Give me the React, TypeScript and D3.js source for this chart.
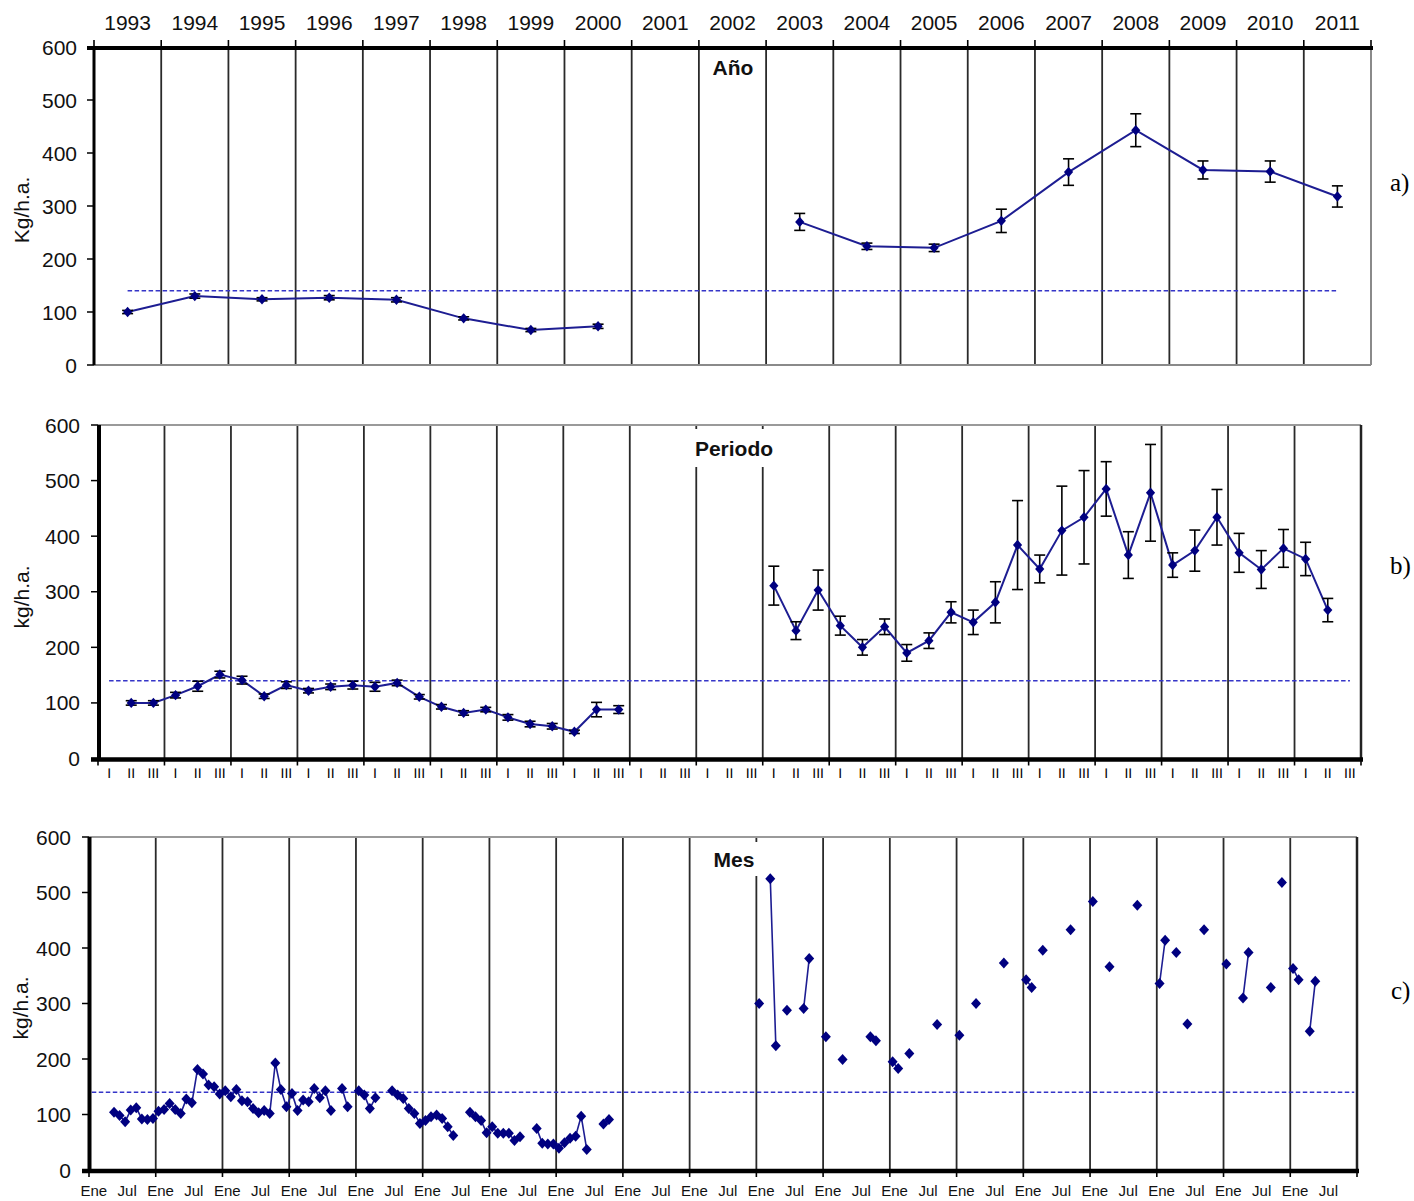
import React from 'react';
import * as d3 from 'd3';

// ---------- DATA ----------
const years = ['1993','1994','1995','1996','1997','1998','1999','2000','2001','2002','2003','2004','2005','2006','2007','2008','2009','2010','2011'];

const annualMean: (number | null)[] = [100,130,124,127,123,88,66,73,null,null,270,224,221,272,364,443,368,365,318];
const annualErr: (number | null)[] = [3,4,3,4,4,3,3,4,null,null,16,6,7,22,25,31,17,20,20];

const periodNames = ['I','II','III'];
const periodMean: (number | null)[] = [
  null,100,100, 114,130,151, 141,112,132, 122,129,132, 129,136,111, 93,82,88, 74,62,58, 48,88,88,
  null,null,null, null,null,null,
  311,230,303, 239,200,237, 190,212,263, 245,281,384, 341,410,434, 485,366,478, 348,374,434, 370,340,378, 359,267,null,
];
const periodErr: (number | null)[] = [
  null,4,4, 5,9,6, 7,4,6, 4,5,7, 8,5,4, 4,4,4, 5,5,5, 3,13,7,
  null,null,null, null,null,null,
  35,16,36, 17,14,14, 15,14,19, 22,37,80, 25,80,84, 49,42,87, 22,37,50, 35,34,34, 30,21,null,
];

const monthNames = ['Ene','Jul'];
// month index counted from Ene 1993 (0) to Dic 2011 (227)
const monthIdx = [
  4,5,6,7,8,9,10,11,12,13,14,15,16,17,18,19,20,21,22,23,24,25,26,27,28,29,30,31,32,33,34,35,36,37,38,39,40,41,42,43,
  45,46,48,49,50,51,54,55,56,57,58,59,60,61,62,63,64,65,68,69,70,71,72,73,74,75,76,77,80,81,82,83,84,85,86,87,88,89,92,93,
  120,122,123,125,128,129,132,135,140,141,144,145,147,152,156,159,164,168,169,171,176,180,183,188,192,193,195,197,200,204,207,208,212,214,216,217,219,220,
];
const monthVal = [
  104,98,87,108,112,92,91,93,106,109,120,109,102,128,121,181,173,153,150,137,143,132,145,125,123,111,103,107,102,193,145,114,138,107,126,123,147,130,143,107,
  147,114,143,135,111,130,143,135,129,111,102,84,89,96,99,93,78,62,104,96,89,67,78,66,66,66,53,60,75,48,47,47,39,49,57,61,97,37,83,91,
  300,525,224,288,291,381,240,199,240,233,195,183,210,262,243,300,373,343,329,396,433,484,366,477,336,414,392,263,433,371,310,392,329,518,363,343,250,340,
];

const referenceLevel = 140;
const yTicks = [0,100,200,300,400,500,600];

// ---------- STYLE ----------
const FONT = '"Liberation Sans", Arial, sans-serif';
const SERIF = '"Liberation Serif", "Times New Roman", serif';
const LINE = '#1d1d92';
const MARK = '#000080';
const DASH = '#3535c8';
const GRID = '#2a2a2a';

const diamond = 'M0,-5.2L4.6,0L0,5.2L-4.6,0Z';
const diamondC = 'M0,-5.5L5,0L0,5.5L-5,0Z';

type Panel = { x0: number; x1: number; yTop: number; yBot: number };

const PA: Panel = { x0: 94, x1: 1371, yTop: 47, yBot: 365 };
const PB: Panel = { x0: 98, x1: 1361, yTop: 425, yBot: 758.5 };
const PC: Panel = { x0: 89, x1: 1357, yTop: 837, yBot: 1170 };

function YAxis({ p, y, title, tx, ty, labelGap }: { p: Panel; y: d3.ScaleLinear<number, number>; title: string; tx: number; ty: number; labelGap: number }) {
  return (
    <g>
      {yTicks.map((t) => (
        <g key={t}>
          <line x1={p.x0 - 7} x2={p.x0} y1={y(t)} y2={y(t)} stroke="#000" strokeWidth={1.5} />
          <text x={p.x0 - labelGap} y={y(t)} dy="0.36em" textAnchor="end" fontSize={21} fontFamily={FONT} fill="#111">{t}</text>
        </g>
      ))}
      <text transform={`translate(${tx},${ty}) rotate(-90)`} textAnchor="middle" dominantBaseline="central" fontSize={21} fontFamily={FONT} fill="#111">{title}</text>
    </g>
  );
}

function ErrorBars({ pts, y }: { pts: { x: number; m: number; e: number }[]; y: d3.ScaleLinear<number, number> }) {
  return (
    <g stroke="#000" strokeWidth={1.6} fill="none">
      {pts.map((d, i) => (
        <g key={i}>
          <line x1={d.x} x2={d.x} y1={y(d.m - d.e)} y2={y(d.m + d.e)} />
          <line x1={d.x - 5.5} x2={d.x + 5.5} y1={y(d.m - d.e)} y2={y(d.m - d.e)} />
          <line x1={d.x - 5.5} x2={d.x + 5.5} y1={y(d.m + d.e)} y2={y(d.m + d.e)} />
        </g>
      ))}
    </g>
  );
}

function Label({ x, y, text, w, h }: { x: number; y: number; text: string; w: number; h: number }) {
  return (
    <g>
      <rect x={x - w / 2} y={y - h / 2} width={w} height={h} fill="#fff" />
      <text x={x} y={y} dy="0.36em" textAnchor="middle" fontWeight="bold" fontSize={21} fontFamily={FONT} fill="#111">{text}</text>
    </g>
  );
}

function PanelA() {
  const p = PA;
  const x = d3.scaleBand<string>().domain(years).range([p.x0, p.x1]).padding(0);
  const y = d3.scaleLinear().domain([0, 600]).range([p.yBot, p.yTop]);
  const cx = (k: string) => (x(k) as number) + x.bandwidth() / 2;
  const data = years.map((k, i) => ({ x: cx(k), m: annualMean[i], e: annualErr[i] }));
  const line = d3.line<{ x: number; m: number | null }>().defined((d) => d.m != null).x((d) => d.x).y((d) => y(d.m as number));
  const bounds = d3.range(years.length + 1).map((i) => p.x0 + i * x.bandwidth());
  const valid = data.filter((d) => d.m != null) as { x: number; m: number; e: number }[];
  return (
    <g>
      {bounds.slice(1, -1).map((b, i) => (
        <line key={i} x1={b} x2={b} y1={p.yTop} y2={p.yBot} stroke={GRID} strokeWidth={1.8} />
      ))}
      <line x1={p.x1} x2={p.x1} y1={p.yTop} y2={p.yBot} stroke="#8a8a8a" strokeWidth={2} />
      <line x1={p.x0} x2={p.x1} y1={p.yBot} y2={p.yBot} stroke="#8a8a8a" strokeWidth={2} />
      <Label x={733} y={67} text="Año" w={56} h={30} />
      <line x1={cx(years[0])} x2={cx(years[years.length - 1])} y1={y(referenceLevel)} y2={y(referenceLevel)} stroke={DASH} strokeWidth={1.6} strokeDasharray="4.5 2.5" />
      <path d={line(data) || ''} fill="none" stroke={LINE} strokeWidth={2} />
      <ErrorBars pts={valid} y={y} />
      {valid.map((d, i) => (
        <path key={i} d={diamond} transform={`translate(${d.x},${y(d.m)})`} fill={MARK} />
      ))}
      {/* top axis */}
      <line x1={p.x0 - 7} x2={p.x1 + 2} y1={p.yTop + 1} y2={p.yTop + 1} stroke="#000" strokeWidth={4} />
      {bounds.map((b, i) => (
        <line key={i} x1={b} x2={b} y1={p.yTop - 7} y2={p.yTop} stroke="#000" strokeWidth={1.6} />
      ))}
      {years.map((k) => (
        <text key={k} x={cx(k)} y={30} textAnchor="middle" fontSize={21} fontFamily={FONT} fill="#111">{k}</text>
      ))}
      <line x1={p.x0} x2={p.x0} y1={p.yTop} y2={p.yBot} stroke="#000" strokeWidth={3} />
      <YAxis p={p} y={y} title="Kg/h.a." tx={21} ty={210} labelGap={17} />
      <text x={1390} y={191} fontSize={25} fontFamily={SERIF} fill="#000">a)</text>
    </g>
  );
}

function PanelB() {
  const p = PB;
  const n = years.length * 3;
  const x = d3.scaleLinear().domain([0, n]).range([p.x0, p.x1]);
  const y = d3.scaleLinear().domain([0, 600]).range([p.yBot, p.yTop]);
  const data = periodMean.map((m, i) => ({ x: x(i + 0.5), m, e: periodErr[i] }));
  const line = d3.line<{ x: number; m: number | null }>().defined((d) => d.m != null).x((d) => d.x).y((d) => y(d.m as number));
  const bounds = d3.range(years.length + 1).map((i) => x(i * 3));
  const valid = data.filter((d) => d.m != null) as { x: number; m: number; e: number }[];
  return (
    <g>
      {bounds.slice(1, -1).map((b, i) => (
        <line key={i} x1={b} x2={b} y1={p.yTop} y2={p.yBot} stroke={GRID} strokeWidth={1.8} />
      ))}
      <line x1={p.x0} x2={p.x1} y1={p.yTop} y2={p.yTop} stroke="#9a9a9a" strokeWidth={2} />
      <line x1={p.x1} x2={p.x1} y1={p.yTop} y2={p.yBot} stroke="#222" strokeWidth={2.5} />
      <Label x={734} y={448} text="Periodo" w={86} h={38} />
      <line x1={x(0.5)} x2={x(n - 0.5)} y1={y(referenceLevel)} y2={y(referenceLevel)} stroke={DASH} strokeWidth={1.6} strokeDasharray="4.5 2.5" />
      <path d={line(data) || ''} fill="none" stroke={LINE} strokeWidth={2} />
      <ErrorBars pts={valid} y={y} />
      {valid.map((d, i) => (
        <path key={i} d={diamond} transform={`translate(${d.x},${y(d.m)})`} fill={MARK} />
      ))}
      <line x1={p.x0 - 7} x2={p.x1 + 2} y1={p.yBot + 1} y2={p.yBot + 1} stroke="#000" strokeWidth={4.5} />
      {bounds.map((b, i) => (
        <line key={i} x1={b} x2={b} y1={p.yBot} y2={p.yBot + 7} stroke="#000" strokeWidth={1.6} />
      ))}
      {d3.range(n).map((i) => (
        <text key={i} x={x(i + 0.5)} y={777.5} textAnchor="middle" fontSize={14} fontFamily={FONT} fill="#000" style={{ textRendering: 'geometricPrecision' }}>{periodNames[i % 3]}</text>
      ))}
      <line x1={p.x0 + 1} x2={p.x0 + 1} y1={p.yTop} y2={p.yBot} stroke="#000" strokeWidth={4} />
      <YAxis p={p} y={y} title="kg/h.a." tx={21} ty={597} labelGap={18} />
      <text x={1390} y={574} fontSize={25} fontFamily={SERIF} fill="#000">b)</text>
    </g>
  );
}

function PanelC() {
  const p = PC;
  const n = years.length * 12;
  const x = d3.scaleLinear().domain([0, n]).range([p.x0, p.x1]);
  const y = d3.scaleLinear().domain([0, 600]).range([p.yBot, p.yTop]);
  const series: (number | null)[] = d3.range(n).map(() => null);
  monthIdx.forEach((m, i) => { series[m] = monthVal[i]; });
  const data = series.map((v, i) => ({ x: x(i + 0.5), m: v }));
  const line = d3.line<{ x: number; m: number | null }>().defined((d) => d.m != null).x((d) => d.x).y((d) => y(d.m as number));
  const bounds = d3.range(years.length + 1).map((i) => x(i * 12));
  const valid = data.filter((d) => d.m != null) as { x: number; m: number }[];
  return (
    <g>
      {bounds.slice(1, -1).map((b, i) => (
        <line key={i} x1={b} x2={b} y1={p.yTop} y2={p.yBot} stroke={GRID} strokeWidth={1.8} />
      ))}
      <line x1={p.x0} x2={p.x1} y1={p.yTop} y2={p.yTop} stroke="#9a9a9a" strokeWidth={2} />
      <line x1={p.x1} x2={p.x1} y1={p.yTop} y2={p.yBot} stroke="#222" strokeWidth={2.5} />
      <Label x={734} y={859} text="Mes" w={52} h={34} />
      <line x1={x(0.5)} x2={x(n - 0.5)} y1={y(referenceLevel)} y2={y(referenceLevel)} stroke={DASH} strokeWidth={1.6} strokeDasharray="4.5 2.5" />
      <path d={line(data) || ''} fill="none" stroke={LINE} strokeWidth={1.6} />
      {valid.map((d, i) => (
        <path key={i} d={diamondC} transform={`translate(${d.x},${y(d.m)})`} fill={MARK} />
      ))}
      <line x1={p.x0 - 7} x2={p.x1 + 2} y1={p.yBot + 1} y2={p.yBot + 1} stroke="#000" strokeWidth={4.5} />
      {bounds.map((b, i) => (
        <line key={i} x1={b} x2={b} y1={p.yBot} y2={p.yBot + 7} stroke="#000" strokeWidth={1.6} />
      ))}
      {d3.range(0, n, 6).map((i) => (
        <text key={i} x={x(i + 0.5) + 2} y={1196} textAnchor="middle" fontSize={15} fontFamily={FONT} fill="#111">{monthNames[(i / 6) % 2]}</text>
      ))}
      <line x1={p.x0 + 0.5} x2={p.x0 + 0.5} y1={p.yTop} y2={p.yBot} stroke="#000" strokeWidth={4} />
      <YAxis p={p} y={y} title="kg/h.a." tx={20} ty={1008} labelGap={18} />
      <text x={1391} y={999} fontSize={25} fontFamily={SERIF} fill="#000">c)</text>
    </g>
  );
}

export default function App() {
  return (
    <svg width={1414} height={1201} style={{ position: 'absolute', left: 0, top: 0, background: '#fff' }}>
      <rect width={1414} height={1201} fill="#fff" />
      <PanelA />
      <PanelB />
      <PanelC />
    </svg>
  );
}
